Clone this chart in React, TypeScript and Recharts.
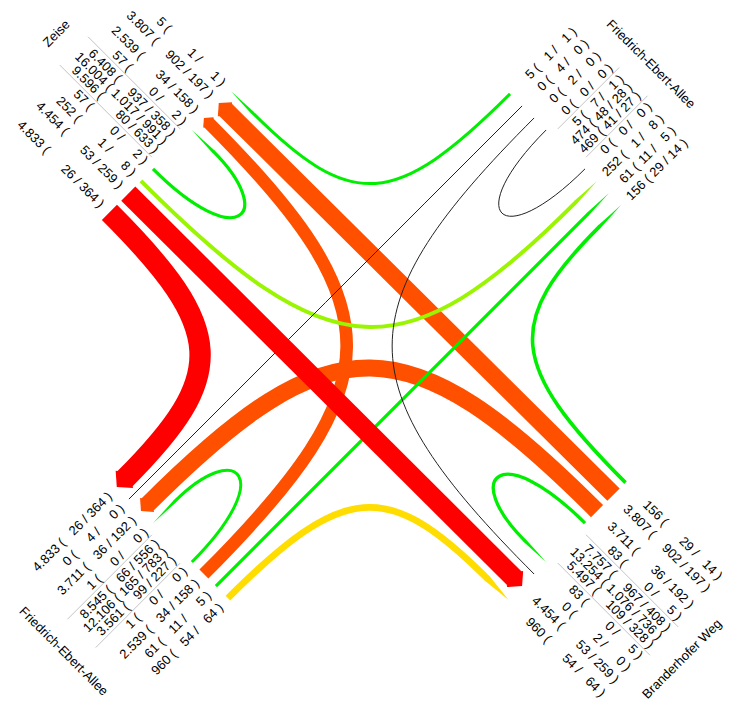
import { ComposedChart, XAxis, YAxis, Line, Scatter } from "recharts"

// arms clockwise from top-left: 0 Zeise, 1 Friedrich-Ebert-Allee (NE), 2 Branderhofer Weg, 3 Friedrich-Ebert-Allee (SW)
const armTitles = ["Zeise", "Friedrich-Ebert-Allee", "Branderhofer Weg", "Friedrich-Ebert-Allee"]

// one entry per turning movement
const flowFrom = [0, 0, 0, 0, 1, 1, 1, 1, 2, 2, 2, 2, 3, 3, 3, 3]
const flowTo = [0, 1, 2, 3, 1, 2, 3, 0, 2, 3, 0, 1, 3, 0, 1, 2]
const flowTotal = [57, 252, 4454, 4833, 0, 0, 0, 5, 83, 3711, 3807, 156, 1, 2539, 61, 960]
const flowA = [0, 1, 53, 26, 0, 2, 4, 1, 0, 36, 902, 29, 0, 34, 11, 54]
const flowB = [2, 8, 259, 364, 0, 0, 0, 1, 5, 192, 197, 14, 0, 158, 5, 64]

const W = 731
const H = 708
const CX = 369
const CY = 346
const GATE = 278
const FONT = 13
const FONT_FAMILY = "'Liberation Sans', Arial, sans-serif"
const MARGIN = 10
const FIRST_LANE = 27.5
const MIN_STEP = 17
const LANE_GAP = 6
const SUM_STEP = 12
const SEP_OFF = 20
const TITLE_GAP = 30
const TURN_PULL = 0.83
const UTURN_DEPTH = 120
const STRAIGHT_PULL = 180

type Vec = [number, number]

// rotated frame: u points to the NE arm, v points to the SE arm
const OUT: Vec[] = [[0, -1], [1, 0], [0, 1], [-1, 0]]
const LAT: Vec[] = OUT.map(([u, v]) => [-v, u] as Vec)
const ROW_ANGLE = [45, -45, 45, -45]
const TITLE_ANGLE = [-45, 45, -45, 45]
const READS_OUTWARD = [false, true, true, false]

const S = Math.SQRT1_2
const toXY = ([u, v]: Vec) => ({ x: CX + (u + v) * S, y: CY + (v - u) * S })
const add = (a: Vec, b: Vec, k = 1): Vec => [a[0] + b[0] * k, a[1] + b[1] * k]
const gate = (arm: number, off: number, r = GATE): Vec => add(add([0, 0], OUT[arm], r), LAT[arm], off)

const bandWidth = (v: number) => (v === 0 ? 1 : 3 + v * 0.0038)
const bandColor = (v: number) => {
  if (v === 0) return "#222222"
  if (v < 200) return "#00ee00"
  if (v < 500) return "#99f500"
  if (v < 2000) return "#ffdd00"
  if (v < 4000) return "#ff5000"
  return "#ff0000"
}
// drawing order: orange at the bottom, red on top
const layerOf = (v: number) => {
  if (v === 0) return 4
  if (v < 200) return 3
  if (v < 500) return 2
  if (v < 2000) return 1
  if (v < 4000) return 0
  return 5
}

const fmt = (n: number) => String(n).replace(/\B(?=(\d{3})+(?!\d))/g, ".")
const textWidth = (s: string) =>
  [...s].reduce((acc, ch) => acc + (". /".includes(ch) ? 0.278 : "()".includes(ch) ? 0.333 : 0.556), 0) * FONT

const turnOf = (i: number) => (flowTo[i] - flowFrom[i] + 4) % 4
const idx = flowTotal.map((_, i) => i)

// lane offsets, stacked from the arm axis outward: u-turn, left, straight, right
const depOff: number[] = []
const arrOff: number[] = []
const stack = (ids: number[], target: number[]) => {
  ids.forEach((id, k) => {
    if (k === 0) target[id] = FIRST_LANE
    else {
      const prev = ids[k - 1]
      const step = Math.max(MIN_STEP, (bandWidth(flowTotal[prev]) + bandWidth(flowTotal[id])) / 2 + LANE_GAP)
      target[id] = target[prev] + step
    }
  })
}
armTitles.forEach((_, a) => {
  stack(idx.filter((i) => flowFrom[i] === a).sort((i, j) => turnOf(i) - turnOf(j)), depOff)
  stack(idx.filter((i) => flowTo[i] === a).sort((i, j) => turnOf(i) - turnOf(j)), arrOff)
})

// flow paths (cubic bezier controls) and arrow tips
const flows = idx.map((i) => {
  const from = flowFrom[i]
  const to = flowTo[i]
  const w = bandWidth(flowTotal[i])
  const wide = w > 9
  const tip = flowTotal[i] === 0 ? 0 : wide ? w / 2 : 30
  const p0 = gate(from, -depOff[i])
  const p3 = gate(to, arrOff[i])
  const p3e = add(p3, OUT[to], -tip)
  const turn = turnOf(i)
  let p1: Vec
  let p2: Vec
  if (turn === 0) {
    p1 = add(p0, OUT[from], -UTURN_DEPTH)
    p2 = add(p3, OUT[to], -UTURN_DEPTH)
  } else if (turn === 2) {
    p1 = add(p0, OUT[from], -STRAIGHT_PULL)
    p2 = add(p3e, OUT[to], -STRAIGHT_PULL)
  } else {
    const c: Vec = OUT[from][0] === 0 ? [p0[0], p3[1]] : [p3[0], p0[1]]
    p1 = add(p0, add(c, p0, -1), TURN_PULL)
    p2 = add(p3e, add(c, p3e, -1), TURN_PULL)
  }
  const [ou, ov] = OUT[to]
  return {
    id: i,
    color: bandColor(flowTotal[i]),
    width: w,
    layer: layerOf(flowTotal[i]),
    points: [p0, p1, p2, p3e].map(toXY),
    arrow: flowTotal[i] === 0 ? null : { ...toXY(p3), dx: (ou + ov) * S, dy: (ov - ou) * S, w, len: tip, wide, color: bandColor(flowTotal[i]) },
  }
})
const drawOrder = [...flows].sort((a, b) => a.layer - b.layer)
const arrows = flows.filter((f) => f.arrow).map((f) => f.arrow!)

// label blocks
type Label = { x: number; y: number; text: string; angle: number; anchor: "start" | "middle" | "end" }
const labels: Label[] = []
const separators: { x: number; y: number }[][] = []
armTitles.forEach((title, a) => {
  const arr = idx.filter((i) => flowTo[i] === a)
  const dep = idx.filter((i) => flowFrom[i] === a)
  const sum = (ids: number[], src: number[]) => ids.reduce((s, i) => s + src[i], 0)
  const rows = [
    ...arr.map((i) => ({ off: arrOff[i], cells: [flowTotal[i], flowA[i], flowB[i]] })),
    ...dep.map((i) => ({ off: -depOff[i], cells: [flowTotal[i], flowA[i], flowB[i]] })),
    { off: SUM_STEP, cells: [sum(arr, flowTotal), sum(arr, flowA), sum(arr, flowB)] },
    { off: 0, cells: [sum(arr, flowTotal) + sum(dep, flowTotal), sum(arr, flowA) + sum(dep, flowA), sum(arr, flowB) + sum(dep, flowB)] },
    { off: -SUM_STEP, cells: [sum(dep, flowTotal), sum(dep, flowA), sum(dep, flowB)] },
  ].map((r) => ({ off: r.off, cells: r.cells.map(fmt) }))
  const colW = [0, 1, 2].map((c) => Math.max(...rows.map((r) => textWidth(r.cells[c]))))
  const sp = textWidth(" ")
  const par = textWidth("(")
  const sl = textWidth("/")
  const t1 = colW[0]
  const tOpen = t1 + sp
  const t2 = tOpen + par + sp + colW[1]
  const tSlash = t2 + sp
  const t3 = tSlash + sl + sp + colW[2]
  const tClose = t3 + sp
  const blockW = tClose + par
  const rAt = (t: number) => (READS_OUTWARD[a] ? GATE + MARGIN + t : GATE + MARGIN + blockW - t)
  rows.forEach((row) => {
    const put = (t: number, text: string, anchor: "start" | "end") =>
      labels.push({ ...toXY(gate(a, row.off, rAt(t))), text, angle: ROW_ANGLE[a], anchor })
    put(t1, row.cells[0], "end")
    put(tOpen, "(", "start")
    put(t2, row.cells[1], "end")
    put(tSlash, "/", "start")
    put(t3, row.cells[2], "end")
    put(tClose, ")", "start")
  })
  for (const s of [-1, 1]) {
    separators.push([toXY(gate(a, s * SEP_OFF, GATE + MARGIN - 1)), toXY(gate(a, s * SEP_OFF, GATE + MARGIN + blockW + 5))])
  }
  labels.push({ ...toXY(gate(a, 0, GATE + MARGIN + blockW + TITLE_GAP)), text: title, angle: TITLE_ANGLE[a], anchor: "middle" })
})

// d3 curve factory: four points are read as one cubic bezier
const bezierCurve = (context: any) => {
  let pts: number[][] = []
  return {
    areaStart() {},
    areaEnd() {},
    lineStart() {
      pts = []
    },
    point(x: number, y: number) {
      pts.push([x, y])
    },
    lineEnd() {
      if (pts.length < 4) return
      const [a, b, c, d] = pts
      context.moveTo(a[0], a[1])
      context.bezierCurveTo(b[0], b[1], c[0], c[1], d[0], d[1])
    },
  }
}

const ArrowHead = (props: any) => {
  const { cx, cy, payload } = props
  const { dx, dy, w, len, wide, color } = payload
  const nx = -dy
  const ny = dx
  const hw = w / 2
  const bx = cx - dx * len
  const by = cy - dy * len
  const pts = wide
    ? [
        [bx - dx + nx * hw, by - dy + ny * hw],
        [bx + nx * hw * 1.15, by + ny * hw * 1.15],
        [cx, cy],
        [bx - nx * hw * 1.15, by - ny * hw * 1.15],
        [bx - dx - nx * hw, by - dy - ny * hw],
      ]
    : [
        [bx - dx * 0.5 + nx * hw, by - dy * 0.5 + ny * hw],
        [cx, cy],
        [bx - dx * 0.5 - nx * hw, by - dy * 0.5 - ny * hw],
      ]
  return <polygon points={pts.map((p) => p.join(",")).join(" ")} fill={color} />
}

const LabelText = (props: any) => {
  const { cx, cy, payload } = props
  return (
    <text
      x={cx}
      y={cy}
      transform={`rotate(${payload.angle} ${cx} ${cy})`}
      textAnchor={payload.anchor}
      dominantBaseline="central"
      fontSize={FONT}
      fontFamily={FONT_FAMILY}
      fill="#000"
    >
      {payload.text}
    </text>
  )
}

export default function App() {
  return (
    <div style={{ position: "absolute", left: 0, top: 0, width: W, height: H, background: "#fff" }}>
      <ComposedChart width={W} height={H} margin={{ top: 0, right: 0, bottom: 0, left: 0 }}>
        <XAxis type="number" dataKey="x" domain={[0, W]} allowDataOverflow hide />
        <YAxis type="number" dataKey="y" domain={[0, H]} allowDataOverflow reversed hide />
        {separators.map((seg, k) => (
          <Line key={`sep-${k}`} data={seg} dataKey="y" stroke="#c4c4c4" strokeWidth={1} dot={false} activeDot={false} isAnimationActive={false} />
        ))}
        {drawOrder.map((f) => (
          <Line
            key={`flow-${f.id}`}
            data={f.points}
            dataKey="y"
            type={bezierCurve as any}
            stroke={f.color}
            strokeWidth={f.width}
            strokeLinecap="butt"
            dot={false}
            activeDot={false}
            isAnimationActive={false}
          />
        ))}
        <Scatter data={arrows} dataKey="y" shape={ArrowHead} isAnimationActive={false} />
        <Scatter data={labels} dataKey="y" shape={LabelText} isAnimationActive={false} />
      </ComposedChart>
    </div>
  )
}
